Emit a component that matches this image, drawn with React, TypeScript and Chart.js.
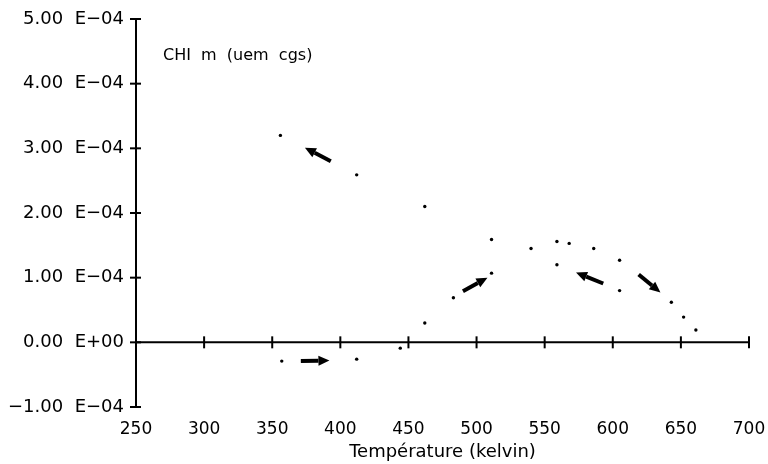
import React, { useEffect, useRef } from "react";
import { Chart, registerables } from "chart.js";

Chart.register(...registerables);

// Temperature (K) and CHI m (uem cgs)
const upperT = [356, 412, 462, 511, 540, 559, 568, 586, 605, 643, 652, 661];
const upperChi = [3.2e-4, 2.59e-4, 2.1e-4, 1.59e-4, 1.45e-4, 1.56e-4, 1.53e-4, 1.45e-4, 1.27e-4, 0.62e-4, 0.39e-4, 0.19e-4];

const lowerT = [357, 412, 444, 462, 483, 511, 559, 605];
const lowerChi = [-0.29e-4, -0.26e-4, -0.09e-4, 0.3e-4, 0.69e-4, 1.07e-4, 1.2e-4, 0.8e-4];

// Arrows: tail and head in data coordinates [T, chi]
const arrowTails: [number, number][] = [
  [393, 2.8e-4],
  [371, -0.29e-4],
  [490, 0.79e-4],
  [593, 0.91e-4],
  [619, 1.05e-4],
];
const arrowHeads: [number, number][] = [
  [374, 3.01e-4],
  [392, -0.28e-4],
  [508, 1.0e-4],
  [573, 1.08e-4],
  [635, 0.77e-4],
];

const xMin = 250;
const xMax = 700;
const xStep = 50;
const yMin = -1e-4;
const yMax = 5e-4;
const yStep = 1e-4;

const yAxisLabel = "CHI  m  (uem  cgs)";
const xAxisLabel = "Température (kelvin)";

const FONT = "'DejaVu Sans', sans-serif";

function fmtTick(v: number): string {
  const s = Number(v).toExponential(2); // e.g. "3.00e-4"
  const [mant, expPart] = s.split("e");
  let exp = parseInt(expPart, 10);
  let m = mant;
  if (Math.abs(v) < 1e-12) {
    m = "0.00";
    exp = 0;
  }
  const sign = exp < 0 ? "\u2212" : "+";
  const e = String(Math.abs(exp)).padStart(2, "0");
  const ms = m.startsWith("-") ? "\u2212" + m.slice(1) : m;
  return `${ms}  E${sign}${e}`;
}

const customPlugin = {
  id: "customAxes",
  afterDatasetsDraw(chart: any) {
    const { ctx, chartArea, scales } = chart;
    const x = scales.x;
    const y = scales.y;
    const line = (x1: number, y1: number, x2: number, y2: number) => {
      ctx.beginPath();
      ctx.moveTo(x1, y1);
      ctx.lineTo(x2, y2);
      ctx.stroke();
    };
    ctx.save();
    ctx.strokeStyle = "#000";
    ctx.lineWidth = 2;
    ctx.lineCap = "butt";
    const x0 = chartArea.left;
    line(x0, y.getPixelForValue(yMax) - 1, x0, y.getPixelForValue(yMin) + 1);
    y.ticks.forEach((t: any) => {
      const py = y.getPixelForValue(t.value);
      line(x0 - 6, py, x0 + 5, py);
    });
    const y0 = y.getPixelForValue(0);
    line(x0, y0, x.getPixelForValue(xMax), y0);
    x.ticks.forEach((t: any) => {
      const px = x.getPixelForValue(t.value);
      if (t.value === xMin) return;
      line(px, y0 - 6, px, y0 + 6);
    });

    // arrows
    ctx.fillStyle = "#000";
    for (let i = 0; i < arrowTails.length; i++) {
      const tx = x.getPixelForValue(arrowTails[i][0]);
      const ty = y.getPixelForValue(arrowTails[i][1]);
      const hx = x.getPixelForValue(arrowHeads[i][0]);
      const hy = y.getPixelForValue(arrowHeads[i][1]);
      const ang = Math.atan2(hy - ty, hx - tx);
      const headLen = 11;
      const headW = 5;
      const bx = hx - headLen * Math.cos(ang);
      const by = hy - headLen * Math.sin(ang);
      ctx.lineWidth = 4;
      line(tx, ty, bx, by);
      ctx.beginPath();
      ctx.moveTo(hx, hy);
      ctx.lineTo(bx + headW * Math.sin(ang), by - headW * Math.cos(ang));
      ctx.lineTo(bx - headW * Math.sin(ang), by + headW * Math.cos(ang));
      ctx.closePath();
      ctx.fill();
    }

    // y-axis label inside plot
    ctx.fillStyle = "#000";
    ctx.font = `16px ${FONT}`;
    ctx.textAlign = "left";
    ctx.textBaseline = "middle";
    ctx.fillText(yAxisLabel, chartArea.left + 27, chartArea.top + 37);
    ctx.restore();
  },
};

export default function App() {
  const canvasRef = useRef<HTMLCanvasElement | null>(null);

  useEffect(() => {
    if (!canvasRef.current) return;
    const chart = new Chart(canvasRef.current, {
      type: "scatter",
      data: {
        datasets: [
          {
            label: "upper",
            data: upperT.map((t, i) => ({ x: t, y: upperChi[i] })),
            backgroundColor: "#000",
            borderColor: "#000",
            pointRadius: 1.7,
            pointBorderWidth: 0,
          },
          {
            label: "lower",
            data: lowerT.map((t, i) => ({ x: t, y: lowerChi[i] })),
            backgroundColor: "#000",
            borderColor: "#000",
            pointRadius: 1.7,
            pointBorderWidth: 0,
          },
        ],
      },
      options: {
        animation: false,
        responsive: true,
        maintainAspectRatio: false,
        layout: { padding: { left: 0, top: 19, right: 19, bottom: 0 } },
        plugins: {
          legend: { display: false },
          tooltip: { enabled: false },
        },
        scales: {
          x: {
            type: "linear",
            position: "bottom",
            min: xMin,
            max: xMax,
            grid: { display: false, drawTicks: false },
            border: { display: false },
            ticks: {
              stepSize: xStep,
              color: "#000",
              padding: 12,
              maxRotation: 0,
              autoSkip: false,
              font: { family: FONT, size: 17 },
            },
            title: {
              display: true,
              text: xAxisLabel,
              color: "#000",
              font: { family: FONT, size: 18 },
              padding: { top: 0, bottom: 1 },
            },
            afterFit: (s: any) => {
              s.height = 57;
              s.paddingRight = 0;
              s.paddingLeft = 0;
            },
          },
          y: {
            type: "linear",
            min: yMin,
            max: yMax,
            grid: { display: false, drawTicks: false },
            border: { display: false },
            ticks: {
              stepSize: yStep,
              color: "#000",
              padding: 12,
              font: { family: FONT, size: 18 },
              callback: (v: any) => fmtTick(Number(v)),
            },
            afterFit: (s: any) => {
              s.width = 136;
              s.paddingTop = 0;
              s.paddingBottom = 0;
            },
          },
        },
      },
      plugins: [customPlugin],
    });
    return () => chart.destroy();
  }, []);

  return (
    <div style={{ position: "absolute", left: 0, top: 0, width: 768, height: 464, background: "#fff" }}>
      <canvas ref={canvasRef} />
    </div>
  );
}
